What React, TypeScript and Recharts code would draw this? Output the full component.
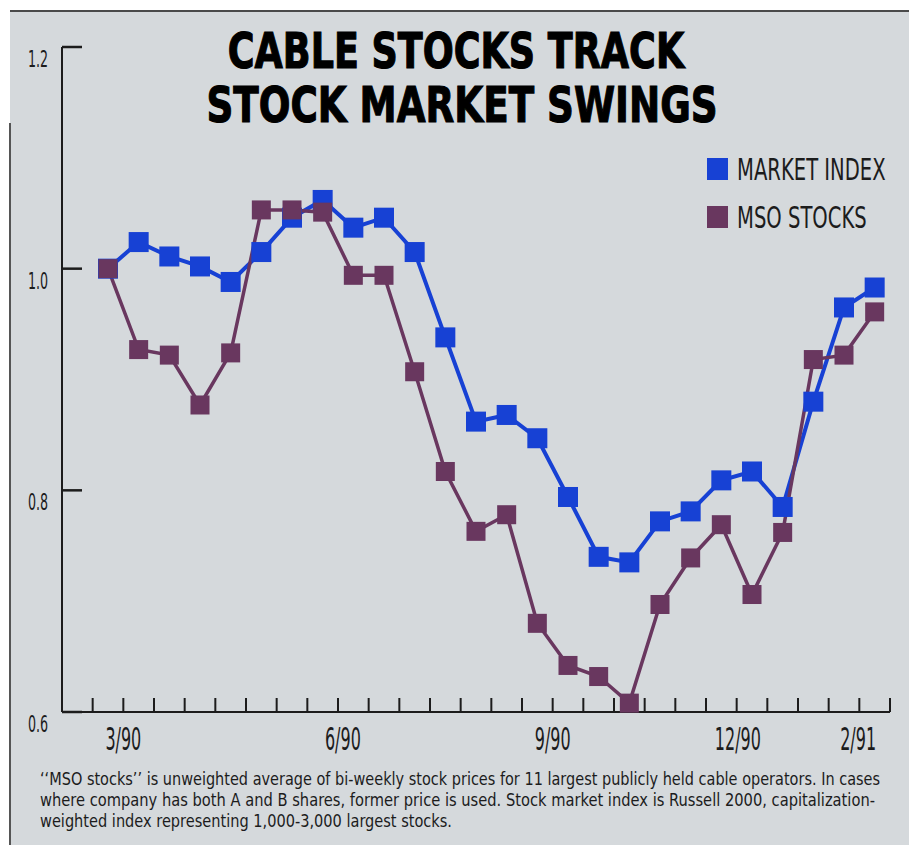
import { LineChart, Line, XAxis, YAxis, Legend } from 'recharts';

// bi-weekly readings, 3/90 .. 2/91
const MARKET_INDEX = [
  1.0, 1.024, 1.011, 1.002, 0.988, 1.015, 1.046, 1.062, 1.037, 1.046, 1.015, 0.938, 0.862,
  0.868, 0.847, 0.794, 0.74, 0.735, 0.772, 0.781, 0.809, 0.817, 0.785, 0.88, 0.965, 0.983,
];
const MSO_STOCKS = [
  1.0, 0.927, 0.922, 0.877, 0.924, 1.053, 1.053, 1.051, 0.994, 0.994, 0.907, 0.817, 0.763,
  0.778, 0.68, 0.642, 0.632, 0.608, 0.697, 0.739, 0.769, 0.706, 0.762, 0.918, 0.922, 0.961,
];
const Y_TICKS = [0.6, 0.8, 1.0, 1.2];
const MONTH_LABELS = ['3/90', '6/90', '9/90', '12/90', '2/91'];
const MONTH_AT = [0.5, 7.66, 14.5, 20.54, 24.46];

const TITLE = ['CABLE STOCKS TRACK', 'STOCK MARKET SWINGS'];
const NOTE = [
  '\u2018\u2018MSO stocks\u2019\u2019 is unweighted average of bi-weekly stock prices for 11 largest publicly held cable operators. In cases',
  'where company has both A and B shares, former price is used. Stock market index is Russell 2000, capitalization-',
  'weighted index representing 1,000-3,000 largest stocks.',
];

const BLUE = '#1741d4';
const PLUM = '#69375f';
const INK = '#1c1c1c';
const FONT = '"DejaVu Sans", sans-serif';
const LEFT = 62; // x of the value axis
const X_DOMAIN = [-1.5, 25.5];

const data = MARKET_INDEX.map((v, i) => ({ i, market: v, mso: MSO_STOCKS[i] }));
const bandEdges = [...data.map((d) => d.i - 0.5), data.length - 0.5];
const monthByPos: Record<string, string> = {};
MONTH_AT.forEach((p, k) => (monthByPos[String(p)] = MONTH_LABELS[k]));

const square = (color: string, size: number) => (props: any) => {
  const { cx, cy, index } = props;
  if (cx == null || cy == null) return <g key={index} />;
  return <rect key={index} x={cx - size / 2} y={cy - size / 2} width={size} height={size} fill={color} />;
};

const EdgeTick = ({ x, y }: any) => (
  <line x1={x} x2={x} y1={y - 14} y2={y} stroke={INK} strokeWidth={2} />
);

const MonthTick = ({ x, y, payload }: any) => (
  <text
    transform={`translate(${x},${y + 37}) scale(0.5,1)`}
    textAnchor="middle"
    fontFamily={FONT}
    fontSize={32}
    fill={INK}
  >
    {monthByPos[String(payload.value)]}
  </text>
);

const ValueTick = ({ y, payload }: any) => (
  <g>
    <path d={`M${LEFT},${y}H${LEFT + 20}`} stroke={INK} strokeWidth={2.5} fill="none" />
    <text
      transform={`translate(${LEFT - 14},${y + 20}) scale(0.55,1)`}
      textAnchor="end"
      fontFamily={FONT}
      fontSize={23}
      fill={INK}
    >
      {Number(payload.value).toFixed(1)}
    </text>
  </g>
);

const LegendBox = ({ payload }: any) => (
  <svg width={200} height={90}>
    {(payload || []).map((p: any, k: number) => (
      <g key={p.value} transform={`translate(0,${k * 48})`}>
        <rect x={7} y={8} width={21} height={22} fill={p.color} />
        <text transform="translate(37,30) scale(1,1.5)" fontFamily={FONT} fontSize={19.6} fill={INK}>
          {p.value}
        </text>
      </g>
    ))}
  </svg>
);

export default function App() {
  return (
    <div style={{ position: 'absolute', left: 0, top: 0, width: 909, height: 845, background: '#fff', overflow: 'hidden' }}>
      {/* paper */}
      <div style={{ position: 'absolute', left: 10, top: 10, right: 0, bottom: 0, background: '#d5d9dc', borderTop: '2px solid #4a4a4a' }} />
      <div style={{ position: 'absolute', left: 9, top: 123, width: 2, bottom: 0, background: '#555' }} />

      <svg width={909} height={845} style={{ position: 'absolute', left: 0, top: 0 }}>
        <text transform="translate(456,68) scale(1,1.35)" textAnchor="middle" fontFamily={FONT} fontWeight={900} fontSize={36.5} fill="#000" stroke="#000" strokeWidth={0.9}>
          {TITLE[0]}
        </text>
        <text transform="translate(462,122) scale(1,1.35)" textAnchor="middle" fontFamily={FONT} fontWeight={900} fontSize={37.3} fill="#000" stroke="#000" strokeWidth={0.9}>
          {TITLE[1]}
        </text>
        {NOTE.map((t, k) => (
          <text
            key={k}
            transform={`translate(40,${785 + k * 21}) scale(1,1.2)`}
            fontFamily={FONT}
            fontSize={14}
            fill={INK}
            textLength={[840, 835, 412][k]}
            lengthAdjust="spacingAndGlyphs"
          >
            {t}
          </text>
        ))}
      </svg>

      <div style={{ position: 'absolute', left: 0, top: 0 }}>
        <LineChart width={909} height={845} data={data} margin={{ top: 47, right: 19, bottom: 131, left: LEFT - 1 }}>
          <XAxis
            xAxisId="edges"
            dataKey="i"
            type="number"
            domain={X_DOMAIN}
            ticks={bandEdges}
            tick={<EdgeTick />}
            tickLine={false}
            tickSize={0}
            tickMargin={0}
            height={1}
            interval={0}
            stroke={INK}
            strokeWidth={2}
          />
          <XAxis
            xAxisId="months"
            dataKey="i"
            type="number"
            domain={X_DOMAIN}
            ticks={MONTH_AT}
            tick={<MonthTick />}
            tickLine={false}
            axisLine={false}
            tickSize={0}
            tickMargin={0}
            height={1}
            interval={0}
          />
          <YAxis
            domain={[0.6, 1.2]}
            ticks={Y_TICKS}
            tick={<ValueTick />}
            tickLine={false}
            tickSize={0}
            tickMargin={0}
            width={1}
            interval={0}
            stroke={INK}
            strokeWidth={2}
          />
          <Legend
            layout="horizontal"
            verticalAlign="middle"
            align="center"
            content={<LegendBox />}
            wrapperStyle={{ left: 700, top: 150, width: 200, height: 90 }}
          />
          <Line
            xAxisId="edges"
            dataKey="market"
            name="MARKET INDEX"
            stroke={BLUE}
            strokeWidth={4}
            dot={square(BLUE, 20)}
            activeDot={false}
            isAnimationActive={false}
          />
          <Line
            xAxisId="edges"
            dataKey="mso"
            name="MSO STOCKS"
            stroke={PLUM}
            strokeWidth={3.5}
            dot={square(PLUM, 19)}
            activeDot={false}
            isAnimationActive={false}
          />
        </LineChart>
      </div>
    </div>
  );
}
